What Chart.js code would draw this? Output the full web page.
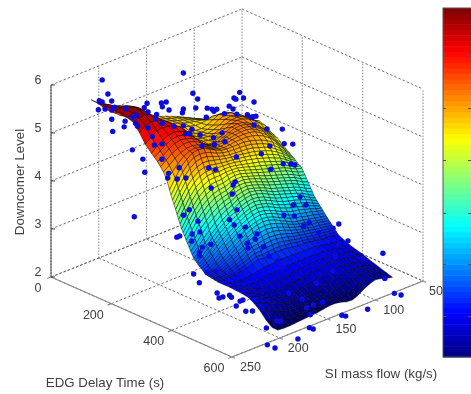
<!DOCTYPE html>
<html>
<head>
<meta charset="utf-8">
<style>
  html, body { margin: 0; padding: 0; background: #fff; }
  #wrap { width: 471px; height: 394px; overflow: hidden; }
  #chart { filter: blur(0.35px); }
</style>
<script src="https://cdn.jsdelivr.net/npm/chart.js@4"></script>
</head>
<body>
<div id="wrap"><canvas id="chart" width="471" height="394"></canvas></div>
<script>
const delayTicks = [0, 200, 400, 600];
const flowTicks = [50, 100, 150, 200, 250];
const levelTicks = [2, 3, 4, 5, 6];

// surface grid, level values x 100, one row per delay, flow columns as listed
const surfaceFlows = [208, 202, 196, 190, 184, 178, 172, 166, 160, 154, 148, 142, 136, 130, 124, 118, 112, 106, 100, 94, 88, 82];
const surfaceDelays = [0, 20, 40, 60, 80, 100, 120, 140, 160, 180, 200, 210, 220, 230, 240, 250,
  260, 265, 270, 275, 280, 285, 290, 295, 300, 305, 310, 315, 320, 325, 330, 335, 340, 345, 350, 355, 360, 365, 370, 375, 380,
  385, 390, 395, 400, 405, 410, 415, 420, 440, 460, 480, 500, 520, 540, 560, 580, 600];
const surfaceLevels = [
  [536,525,512,500,490,480,472,466,460,456,452,448,444,440,435,430,424,418,412,405,400,395],
  [536,529,518,507,496,486,477,470,463,458,453,449,445,441,437,432,427,421,416,409,404,399],
  [536,532,524,514,503,491,481,473,466,460,454,450,446,442,438,434,430,425,421,414,409,404],
  [536,535,530,522,511,498,486,476,469,462,456,451,447,442,439,436,434,431,428,421,414,409],
  [535,537,536,530,519,505,491,478,470,461,454,449,445,441,438,438,440,443,441,433,425,417],
  [534,538,540,533,520,503,487,473,463,455,449,445,441,438,437,440,446,452,452,445,435,425],
  [532,537,539,532,520,505,490,475,463,454,448,445,442,440,441,445,452,457,457,450,440,430],
  [528,532,534,529,520,508,494,480,466,455,449,446,444,443,446,451,458,460,459,452,442,433],
  [512,520,525,523,518,510,499,486,470,458,451,448,447,448,452,458,462,463,460,453,443,436],
  [493,503,511,513,512,508,501,489,473,460,452,449,450,455,460,465,467,465,460,452,442,432],
  [480,490,498,503,505,502,496,484,468,456,451,452,457,463,468,470,468,462,455,445,434,423],
  [474,483,491,497,499,497,492,482,468,458,454,455,459,464,468,469,467,461,453,443,431,420],
  [468,476,485,491,494,492,488,480,468,459,456,458,462,465,467,468,465,459,451,440,428,417],
  [460,469,478,484,488,488,484,477,467,460,458,459,462,465,466,466,463,456,448,436,423,411],
  [452,461,471,478,482,483,480,474,466,460,458,460,462,464,464,463,460,453,444,432,418,406],
  [440,450,463,473,479,481,478,473,465,460,458,459,461,461,461,459,455,449,440,428,414,401],
  [420,440,458,470,478,480,478,472,465,460,458,458,458,458,456,452,448,442,434,423,410,397],
  [411,431,449,462,470,472,471,466,460,456,454,453,453,452,450,446,442,436,429,418,406,394],
  [402,422,440,453,462,465,464,459,455,451,449,448,447,446,444,440,436,431,423,414,402,392],
  [394,414,432,445,453,457,456,453,450,447,445,444,442,440,438,434,430,425,418,409,399,390],
  [385,405,423,436,445,449,449,446,444,442,441,439,437,435,432,428,424,419,413,404,395,387],
  [376,396,414,428,437,441,442,440,439,438,437,434,432,429,426,422,418,413,408,400,391,384],
  [367,387,405,419,428,434,435,433,434,434,432,429,426,423,420,416,412,407,403,395,387,382],
  [359,379,397,411,420,426,427,427,429,429,428,425,421,417,414,410,406,402,397,390,384,380],
  [350,370,388,402,412,418,420,420,424,425,424,420,416,412,408,404,400,396,392,386,380,377],
  [344,362,380,394,404,410,413,414,418,420,419,415,411,407,403,399,395,391,387,381,375,371],
  [338,355,372,385,395,402,406,407,412,414,414,410,406,402,397,393,389,385,381,376,369,366],
  [331,347,364,377,387,395,399,401,407,409,409,406,402,397,392,388,384,380,376,371,364,360],
  [325,340,356,368,379,387,392,395,401,404,404,401,397,392,387,383,379,375,371,366,359,354],
  [319,332,348,360,371,379,385,389,395,398,399,396,392,387,382,378,374,370,366,360,354,348],
  [312,325,339,352,362,372,378,382,389,393,394,391,387,382,376,372,368,364,360,355,348,343],
  [306,317,331,343,354,364,371,376,384,387,389,387,383,377,371,367,363,359,355,350,343,337],
  [300,310,323,335,346,356,364,370,378,382,384,382,378,372,366,362,358,354,350,345,338,331],
  [297,306,319,330,341,351,359,365,372,376,378,376,372,366,360,356,352,349,345,340,333,327],
  [294,303,314,325,336,345,353,359,367,371,373,371,367,361,355,350,346,343,339,335,329,323],
  [291,299,310,321,331,340,348,354,361,365,367,365,361,355,349,345,341,338,334,330,324,319],
  [288,296,306,316,326,334,342,349,356,360,362,360,356,350,344,339,335,332,328,325,320,315],
  [286,292,302,311,320,329,337,344,350,354,356,354,350,344,338,333,329,327,323,320,315,312],
  [283,289,297,306,315,323,332,338,345,349,351,349,345,339,333,327,323,321,318,315,311,308],
  [280,285,293,302,310,318,326,333,339,343,345,343,339,333,327,322,318,316,312,310,306,304],
  [277,282,289,297,305,313,321,328,334,338,340,338,334,328,322,316,312,310,307,305,302,300],
  [277,281,287,294,301,309,316,323,328,332,333,332,328,323,317,312,308,306,303,301,298,297],
  [276,280,285,291,298,304,311,317,322,325,327,325,322,317,312,307,304,302,299,298,295,293],
  [276,278,283,288,294,300,306,312,315,318,320,319,316,312,307,303,300,298,295,294,291,290],
  [275,277,281,285,290,295,301,307,309,312,313,312,310,306,302,299,296,294,291,290,288,286],
  [275,276,279,282,286,291,296,302,303,305,307,306,304,301,297,295,292,290,288,286,284,283],
  [274,275,276,279,283,287,292,296,297,299,300,300,298,295,292,290,288,286,284,283,280,279],
  [274,273,274,276,279,282,287,291,290,292,293,293,292,290,287,286,284,282,280,279,277,276],
  [273,272,272,273,275,278,282,286,284,286,287,287,286,284,282,282,280,278,276,275,273,272],
  [273,271,269,268,268,270,273,276,276,277,278,278,278,277,277,277,276,274,272,270,268,266],
  [273,270,266,263,262,262,264,266,267,268,270,270,270,270,271,271,270,268,266,264,262,261],
  [272,269,264,259,257,256,257,258,259,260,262,263,264,265,266,266,265,264,262,260,258,257],
  [271,268,262,256,252,250,250,250,250,251,253,256,258,260,261,262,261,260,258,257,256,254],
  [269,265,259,253,248,245,243,242,241,241,243,245,248,251,254,256,257,256,254,252,250,249],
  [262,259,253,247,242,238,236,235,234,234,235,237,240,243,246,248,250,251,250,248,245,245],
  [252,248,243,238,233,230,229,228,228,228,229,231,233,235,237,240,243,246,247,245,242,241],
  [238,232,228,225,223,223,223,224,224,225,227,228,228,227,227,231,236,241,244,243,239,237],
  [228,218,217,217,218,219,220,221,222,224,226,226,224,220,219,224,232,238,242,240,236,233]
];

// sample points
const pointDelays = [
  100,100,100,100,100,100,100,100,100,100,100,100,100,100,100,100,100,100,100,
  100,100,100,100,100,100,100,100,100,100,100,100,100,100,100,100,100,100,100,
  100,100,100,100,100,100,100,100,100,100,100,100,100,100,100,100,100,100,100,
  200,200,200,200,200,200,200,200,200,200,200,200,200,200,200,200,200,
  200,200,200,200,200,200,200,200,200,200,200,200,200,200,200,200,200,
  300,300,300,300,300,300,300,300,300,300,300,300,300,300,300,300,300,300,300,300,300,300,300,
  400,400,400,400,400,400,400,400,400,400,400,400,400,400,400,400,400,400,400,400,400,400,
  500,500,500,500,500,500,500,500,500,500,500,500,500,500,500,500,
  600,600,600,600,600,600,600,600,600,600,600,600,600,600,600,600,600,600,600
];
const pointFlows = [
  228,143,222,133,128,231,228,218,215,232,225,218,203,181,184,166,161,165,158,
  143,130,118,113,108,111,95,91,100,87,119,90,88,84,218,217,205,204,196,
  192,193,191,180,180,171,172,165,153,144,143,134,80,69,76,72,70,67,69,
  87,71,172,168,157,143,142,155,134,131,207,205,197,228,217,215,197,
  179,190,191,181,172,141,148,119,84,69,60,93,70,62,58,83,226,
  177,154,152,155,200,206,213,210,197,189,191,150,158,153,141,147,129,131,84,91,78,101,90,
  229,218,221,221,209,227,221,213,203,171,154,170,148,139,134,75,81,96,75,79,112,106,
  234,232,228,221,219,214,210,207,204,197,159,145,81,97,113,130,
  92,90,80,73,108,135,131,169,165,181,213,205,165,155,168,172,203,199,214
];
const pointLevels = [
  6.21,5.68,5.87,5.18,5.02,5.80,5.75,5.69,5.54,5.62,5.58,5.50,5.41,5.35,5.28,5.24,5.22,5.15,5.03,
  4.93,4.85,4.75,4.69,4.65,4.63,4.61,4.52,4.49,4.38,4.57,4.74,4.70,4.81,5.31,5.05,5.05,5.16,5.18,
  5.19,5.03,4.95,5.16,4.83,5.04,4.95,4.81,4.65,4.86,4.58,4.44,4.66,4.49,4.28,4.20,4.19,4.18,4.01,
  4.35,4.22,4.92,4.89,4.78,4.61,4.46,4.53,4.64,4.43,5.14,4.95,4.91,5.03,4.75,4.46,4.59,
  4.27,4.24,4.15,4.05,4.00,3.93,4.02,4.02,3.97,3.90,3.82,3.88,3.49,3.42,3.37,3.48,3.62,
  4.11,3.99,4.04,3.81,3.84,3.77,3.37,3.37,3.31,3.29,3.53,3.44,3.30,3.15,3.01,2.87,2.77,2.68,3.19,3.08,2.97,2.94,2.84,
  3.69,3.48,3.40,3.32,3.47,2.99,2.76,2.92,2.86,3.19,2.98,3.08,2.74,2.56,2.38,2.83,2.79,2.81,2.41,2.19,3.08,3.10,
  2.93,2.81,2.80,2.78,2.72,2.50,2.57,2.57,2.31,2.26,2.33,2.10,2.43,2.93,2.43,2.31,
  2.91,2.37,1.98,1.89,1.87,1.96,1.91,1.97,1.91,1.83,1.96,1.83,2.41,2.39,2.23,2.41,2.38,2.34,2.32
];

const levelMin = 2.3;
const levelMax = 5.45;
const colorbarSteps = 64;
const colorbarTicks = [55, 108, 160, 213, 264, 316];

// 3d view, the two scales below hold the flattened picture plane
function project(delay, flow, level) {
  const back = 250 - flow;
  return {
    x: 51 + delay * 0.3017 + back * 0.955,
    y: 277 + delay * 0.1333 - back * 0.38 - (level - 2) * 48
  };
}

function jet(t) {
  const part = v => Math.round(255 * Math.max(0, Math.min(1, 1.5 - Math.abs(4 * t - v))));
  return `rgb(${part(3)},${part(2)},${part(1)})`;
}

function segment(points, a, b) {
  points.push(project(...a), project(...b), { x: NaN, y: NaN });
}

const slantedGrid = [];
const uprightGrid = [];
levelTicks.forEach(l => {
  segment(slantedGrid, [0, 250, l], [0, 50, l]);
  segment(slantedGrid, [0, 50, l], [600, 50, l]);
});
flowTicks.forEach(f => {
  segment(slantedGrid, [0, f, 2], [600, f, 2]);
  segment(uprightGrid, [0, f, 2], [0, f, 6]);
});
delayTicks.forEach(d => {
  segment(slantedGrid, [d, 250, 2], [d, 50, 2]);
  segment(uprightGrid, [d, 50, 2], [d, 50, 6]);
});

const axisLines = [];
segment(axisLines, [0, 250, 2], [600, 250, 2]);
segment(axisLines, [600, 250, 2], [600, 50, 2]);
delayTicks.forEach(d => segment(axisLines, [d, 250, 2], [d, 254, 2]));
flowTicks.forEach(f => segment(axisLines, [600, f, 2], [610, f, 2]));

const levelAxis = [];
segment(levelAxis, [0, 250, 2], [0, 250, 6]);
levelTicks.forEach(l => {
  const p = project(0, 250, l);
  levelAxis.push(p, { x: p.x + 4, y: p.y }, { x: NaN, y: NaN });
});

const surfacePoints = [];
surfaceDelays.forEach((d, i) => {
  surfaceFlows.forEach((f, j) => surfacePoints.push(project(d, f, surfaceLevels[i][j] / 100)));
});

const samplePoints = pointDelays.map((d, i) => project(d, pointFlows[i], pointLevels[i]));

const surfacePlugin = {
  id: 'surface',
  beforeDatasetDraw(chart, args) {
    if (args.index !== 0) return;
    const ctx = chart.ctx;
    const cols = surfaceFlows.length;
    const nodes = chart.getDatasetMeta(1).data;
    ctx.save();
    ctx.lineWidth = 0.6;
    ctx.strokeStyle = 'rgba(0,0,0,0.8)';
    // far cells first, nearest corner is delay 600 and the highest flow
    for (let i = 0; i < surfaceDelays.length - 1; i++) {
      for (let j = cols - 2; j >= 0; j--) {
        const a = nodes[i * cols + j];
        const b = nodes[i * cols + j + 1];
        const c = nodes[(i + 1) * cols + j + 1];
        const d = nodes[(i + 1) * cols + j];
        const mean = (surfaceLevels[i][j] + surfaceLevels[i][j + 1] + surfaceLevels[i + 1][j + 1] + surfaceLevels[i + 1][j]) / 400;
        ctx.fillStyle = jet((mean - levelMin) / (levelMax - levelMin));
        ctx.beginPath();
        ctx.moveTo(a.x, a.y);
        ctx.lineTo(b.x, b.y);
        ctx.lineTo(c.x, c.y);
        ctx.lineTo(d.x, d.y);
        ctx.closePath();
        ctx.fill();
        ctx.stroke();
      }
    }
    ctx.restore();
  },
  afterDraw(chart) {
    const ctx = chart.ctx;
    const sx = chart.scales.x;
    const sy = chart.scales.y;
    const left = sx.getPixelForValue(443);
    const right = sx.getPixelForValue(471);
    const top = sy.getPixelForValue(8);
    const bottom = sy.getPixelForValue(357);
    const step = (bottom - top) / colorbarSteps;
    ctx.save();
    for (let i = 0; i < colorbarSteps; i++) {
      ctx.fillStyle = jet((i + 0.5) / colorbarSteps);
      ctx.fillRect(left, bottom - (i + 1) * step, right - left, step + 0.5);
    }
    ctx.strokeStyle = '#555';
    ctx.lineWidth = 1;
    ctx.strokeRect(left, top, right - left + 2, bottom - top);
    colorbarTicks.forEach(t => {
      const y = Math.round(sy.getPixelForValue(t)) + 0.5;
      ctx.beginPath();
      ctx.moveTo(left, y);
      ctx.lineTo(left + 3, y);
      ctx.moveTo(right - 3, y);
      ctx.lineTo(right, y);
      ctx.stroke();
    });

    ctx.fillStyle = '#404040';
    ctx.font = '12.5px "Liberation Sans", Arial, sans-serif';
    ctx.textAlign = 'center';
    ctx.textBaseline = 'middle';
    const label = (text, p, dx, dy) => {
      ctx.fillText(text, sx.getPixelForValue(p.x + dx), sy.getPixelForValue(p.y + dy));
    };
    levelTicks.forEach(l => label(String(l), project(0, 250, l), -13, -4));
    delayTicks.forEach(d => label(String(d), project(d, 250, 2), d === 0 ? -13 : -18, 11.5));
    flowTicks.forEach(f => label(String(f), project(600, f, 2), f === 50 ? 13 : 18.5, 10.5));

    ctx.font = '13.3px "Liberation Sans", Arial, sans-serif';
    ctx.fillText('EDG Delay Time (s)', 105, 383);
    ctx.fillText('SI mass flow (kg/s)', 381, 374);
    ctx.translate(20, 182);
    ctx.rotate(-Math.PI / 2);
    ctx.fillText('Downcomer Level', 0, 0);
    ctx.restore();
  }
};

new Chart(document.getElementById('chart'), {
  type: 'scatter',
  data: {
    datasets: [
      { label: 'Samples', data: samplePoints, backgroundColor: '#0b0bdc', borderWidth: 0, pointRadius: 2.7, clip: false, order: 0 },
      { label: 'Surface', data: surfacePoints, pointRadius: 0, showLine: false, clip: false, order: 1 },
      { label: 'Level axis', data: levelAxis, showLine: true, pointRadius: 0, borderColor: '#444', borderWidth: 1, clip: false, order: 2 },
      { label: 'Floor axes', data: axisLines, showLine: true, pointRadius: 0, borderColor: '#888', borderWidth: 1.2, clip: false, order: 3 },
      { label: 'Walls', data: uprightGrid, showLine: true, pointRadius: 0, borderColor: '#999', borderWidth: 1.2, borderDash: [1.5, 1.5], clip: false, order: 4 },
      { label: 'Grid', data: slantedGrid, showLine: true, pointRadius: 0, borderColor: '#666', borderWidth: 0.9, borderDash: [2.5, 2], clip: false, order: 5 }
    ]
  },
  options: {
    responsive: false,
    animation: false,
    layout: { padding: 0, autoPadding: false },
    plugins: { legend: { display: false }, tooltip: { enabled: false } },
    scales: {
      x: { type: 'linear', display: false, min: 0, max: 471 },
      y: { type: 'linear', display: false, min: 0, max: 394, reverse: true }
    }
  },
  plugins: [surfacePlugin]
});
</script>
</body>
</html>
